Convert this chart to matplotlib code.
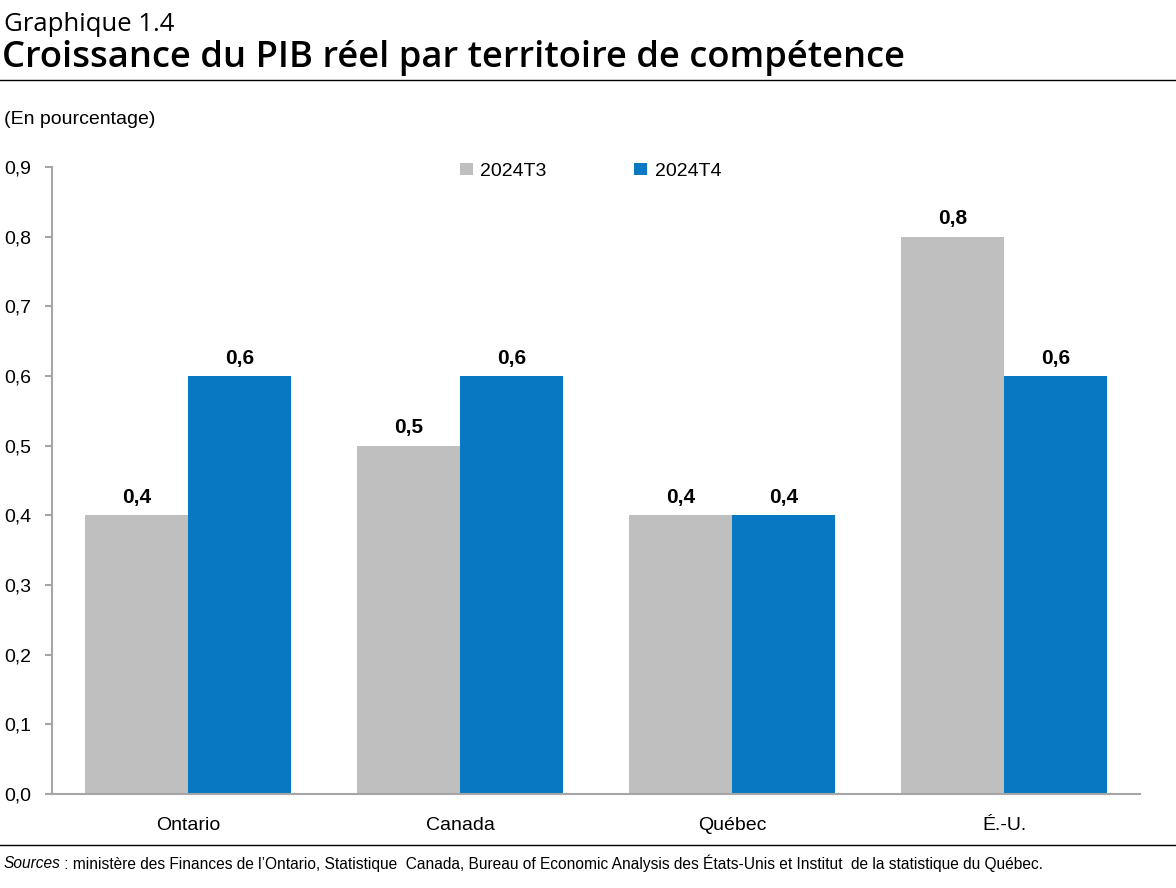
import matplotlib
matplotlib.use("Agg")
import matplotlib.pyplot as plt
import numpy as np

# data
territoires = ["Ontario", "Canada", "Québec", "É.-U."]
t3 = [0.4, 0.5, 0.4, 0.8]
t4 = [0.6, 0.6, 0.4, 0.6]
series_names = ["2024T3", "2024T4"]
yticks = [0.0, 0.1, 0.2, 0.3, 0.4, 0.5, 0.6, 0.7, 0.8, 0.9]

GRAY = "#BFBFBF"
BLUE = "#0778C1"
AXC = "#A6A6A6"
BODY = ["Liberation Sans", "DejaVu Sans"]
HEAD = ["Open Sans", "DejaVu Sans"]

fig = plt.figure(figsize=(11.76, 8.88), dpi=100)
ax = fig.add_axes([52 / 1176, 0.106, 1088 / 1176, 0.706])

x = np.arange(len(territoires))
w = 0.378
b1 = ax.bar(x - w / 2, t3, w, color=GRAY, label=series_names[0])
b2 = ax.bar(x + w / 2, t4, w, color=BLUE, label=series_names[1])

for bars in (b1, b2):
    for r in bars:
        v = r.get_height()
        ax.text(r.get_x() + r.get_width() / 2, v + 0.012, f"{v:.1f}".replace(".", ","),
                ha="center", va="bottom", fontsize=15, fontweight="bold", family=BODY)

ax.set_xlim(-0.5, 3.5)
ax.set_ylim(0, 0.9)
ax.set_yticks(yticks)
ax.set_yticklabels([f"{t:.1f}".replace(".", ",") for t in yticks], family=BODY, fontsize=14)
ax.set_xticks(x)
ax.set_xticklabels(territoires, family=BODY, fontsize=14)
ax.tick_params(axis="x", length=0, pad=17)
ax.tick_params(axis="y", length=5, color=AXC, width=1.5, pad=10)
for s in ("top", "right"):
    ax.spines[s].set_visible(False)
for s in ("left", "bottom"):
    ax.spines[s].set_color(AXC)
    ax.spines[s].set_linewidth(1.5)

ax.legend(loc="upper center", bbox_to_anchor=(0.495, 1.035), ncol=2, frameon=False,
          prop={"family": BODY, "size": 14}, handlelength=0.65, handleheight=0.65,
          columnspacing=4.5, handletextpad=0.4)

# titles and notes
fig.text(0.003, 0.965, "Graphique 1.4", family=HEAD, fontsize=18.5, va="baseline")
fig.text(0.002, 0.9245, "Croissance du PIB réel par territoire de compétence", family=HEAD,
         fontsize=26.2, fontweight="semibold", va="baseline")
fig.add_artist(plt.Line2D([0, 1], [0.9095, 0.9095], color="black", lw=1, transform=fig.transFigure))
fig.text(0.003, 0.865, "(En pourcentage)", family=BODY, fontsize=14, va="center")
fig.add_artist(plt.Line2D([0, 1], [0.0484, 0.0484], color="black", lw=1, transform=fig.transFigure))

src = fig.text(0.003, 0.028, "Sources", family=BODY, fontsize=11.2, style="italic", va="center")
fig.canvas.draw()
bb = src.get_window_extent()
fig.text(bb.x1 / 1176, 0.028,
         " : ministère des Finances de l’Ontario, Statistique  Canada, Bureau of Economic Analysis des États-Unis et Institut  de la statistique du Québec.",
         family=BODY, fontsize=11.2, va="center")

fig.savefig("out.png", dpi=100)
